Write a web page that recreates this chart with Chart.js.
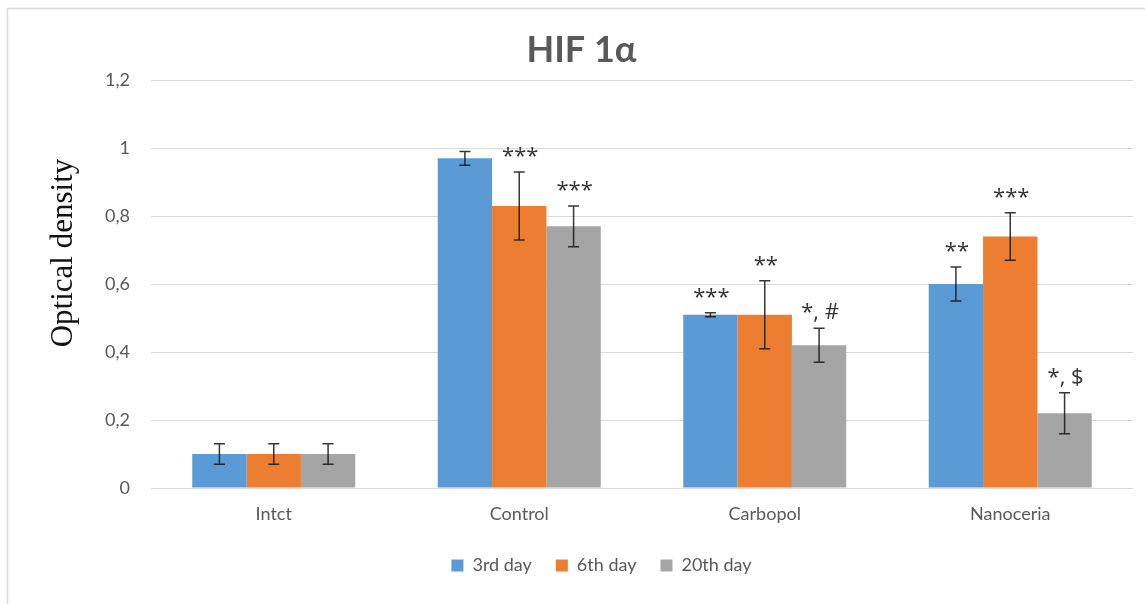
<!DOCTYPE html>
<html>
<head>
<meta charset="utf-8">
<title>HIF 1α</title>
<script src="https://cdn.jsdelivr.net/npm/chart.js@4.4.1/dist/chart.umd.min.js"></script>
<style>
  html, body { margin: 0; padding: 0; background: #fff; overflow: hidden; }
  canvas { display: block; }
</style>
</head>
<body>
<canvas id="chart" width="1145" height="604"></canvas>
<script>
// Groups and series
const categories = ['Intct', 'Control', 'Carbopol', 'Nanoceria'];
const seriesNames = ['3rd day', '6th day', '20th day'];

// Mean optical density per group
const day3 = [0.10, 0.97, 0.51, 0.60];
const day6 = [0.10, 0.83, 0.51, 0.74];
const day20 = [0.10, 0.77, 0.42, 0.22];

// Error (± half-range) per group
const day3Err = [0.03, 0.02, 0.006, 0.05];
const day6Err = [0.03, 0.10, 0.10, 0.07];
const day20Err = [0.03, 0.06, 0.05, 0.06];

// Significance marks above each bar
const day3Marks = ['', '', '***', '**'];
const day6Marks = ['', '***', '**', '***'];
const day20Marks = ['', '***', '*, #', '*, $'];

// Value axis labels (decimal comma)
const yTickLabels = ['0', '0,2', '0,4', '0,6', '0,8', '1', '1,2'];

const TEXT_GREY = '#595959';
const UI_FONT = 'Lato, "Open Sans", sans-serif';

// White page with a thin grey frame around the chart
const framePlugin = {
  id: 'frame',
  beforeDraw(chart) {
    const ctx = chart.ctx;
    ctx.save();
    ctx.fillStyle = '#ffffff';
    ctx.fillRect(0, 0, chart.width, chart.height);
    ctx.strokeStyle = '#d9d9d9';
    ctx.lineWidth = 1.5;
    ctx.strokeRect(7.5, 8.5, chart.width + 20, chart.height + 20);
    ctx.restore();
  }
};

// Error whiskers with caps
const errorBarPlugin = {
  id: 'errorBars',
  afterDatasetsDraw(chart) {
    const ctx = chart.ctx;
    const yScale = chart.scales.y;
    ctx.save();
    ctx.strokeStyle = 'rgba(20,20,20,0.85)';
    ctx.lineWidth = 1.5;
    chart.data.datasets.forEach((ds, i) => {
      const meta = chart.getDatasetMeta(i);
      meta.data.forEach((bar, j) => {
        const v = ds.data[j];
        const e = ds.errors[j];
        const yTop = yScale.getPixelForValue(v + e);
        const yBot = yScale.getPixelForValue(v - e);
        const x = bar.x;
        const cap = 5.5;
        ctx.beginPath();
        ctx.moveTo(x, yTop); ctx.lineTo(x, yBot);
        ctx.moveTo(x - cap, yTop); ctx.lineTo(x + cap, yTop);
        ctx.moveTo(x - cap, yBot); ctx.lineTo(x + cap, yBot);
        ctx.stroke();
      });
    });
    ctx.restore();
  }
};

// Significance marks placed above the upper whisker
const marksPlugin = {
  id: 'marks',
  afterDatasetsDraw(chart) {
    const ctx = chart.ctx;
    const yScale = chart.scales.y;
    ctx.save();
    ctx.fillStyle = '#333333';
    ctx.font = '22px "Open Sans", Lato, sans-serif';
    ctx.textAlign = 'center';
    ctx.textBaseline = 'alphabetic';
    chart.data.datasets.forEach((ds, i) => {
      const meta = chart.getDatasetMeta(i);
      meta.data.forEach((bar, j) => {
        const mark = ds.marks[j];
        if (!mark) return;
        const yTop = yScale.getPixelForValue(ds.data[j] + ds.errors[j]);
        ctx.fillText(mark, bar.x + 1, yTop - 9);
      });
    });
    ctx.restore();
  }
};

// Serif value-axis title
const yTitlePlugin = {
  id: 'yTitle',
  afterDraw(chart) {
    const ctx = chart.ctx;
    ctx.save();
    ctx.translate(64, 253);
    ctx.rotate(-Math.PI / 2);
    ctx.font = '31px "Liberation Serif", "DejaVu Serif", serif';
    ctx.fillStyle = '#111111';
    ctx.textAlign = 'center';
    ctx.textBaseline = 'middle';
    ctx.fillText('Optical density', 0, 0);
    ctx.restore();
  }
};

// Centre the legend row under the plot
const legendShiftPlugin = {
  id: 'legendShift',
  afterLayout(chart) {
    if (chart.legend) {
      chart.legend.left += 20;
      chart.legend.right += 20;
    }
  }
};

const seriesColors = ['#5b9bd5', '#ed7d31', '#a5a5a5'];
const seriesValues = [day3, day6, day20];
const seriesErrors = [day3Err, day6Err, day20Err];
const seriesMarks = [day3Marks, day6Marks, day20Marks];

const datasets = seriesNames.map((name, i) => ({
  label: name,
  data: seriesValues[i],
  errors: seriesErrors[i],
  marks: seriesMarks[i],
  backgroundColor: seriesColors[i],
  borderWidth: 0,
  categoryPercentage: 0.664,
  barPercentage: 1.0
}));

new Chart(document.getElementById('chart'), {
  type: 'bar',
  data: { labels: categories, datasets },
  options: {
    responsive: false,
    devicePixelRatio: 1,
    animation: false,
    layout: { padding: { left: 30, right: 12, top: 0, bottom: 19.5 } },
    plugins: {
      title: {
        display: true,
        text: 'HIF 1α',
        color: TEXT_GREY,
        font: { family: UI_FONT, size: 36, weight: 'bold' },
        padding: { top: 29, bottom: 8 }
      },
      legend: {
        position: 'bottom',
        labels: {
          boxWidth: 12,
          boxHeight: 12,
          padding: 24,
          color: TEXT_GREY,
          font: { family: UI_FONT, size: 18 }
        }
      },
      tooltip: { enabled: false }
    },
    scales: {
      x: {
        grid: { display: false, drawTicks: false },
        border: { display: false },
        ticks: {
          color: TEXT_GREY,
          font: { family: UI_FONT, size: 18 },
          padding: 15
        },
        afterFit(scale) { scale.height = 44.5; }
      },
      y: {
        min: 0,
        max: 1.2,
        grid: { color: '#d9d9d9', lineWidth: 1, drawTicks: false },
        border: { display: false },
        ticks: {
          stepSize: 0.2,
          color: TEXT_GREY,
          font: { family: UI_FONT, size: 18 },
          padding: 21,
          callback: (value, index) => yTickLabels[index]
        },
        afterFit(scale) { scale.width = 121; }
      }
    }
  },
  plugins: [framePlugin, errorBarPlugin, marksPlugin, yTitlePlugin, legendShiftPlugin]
});
</script>
</body>
</html>
